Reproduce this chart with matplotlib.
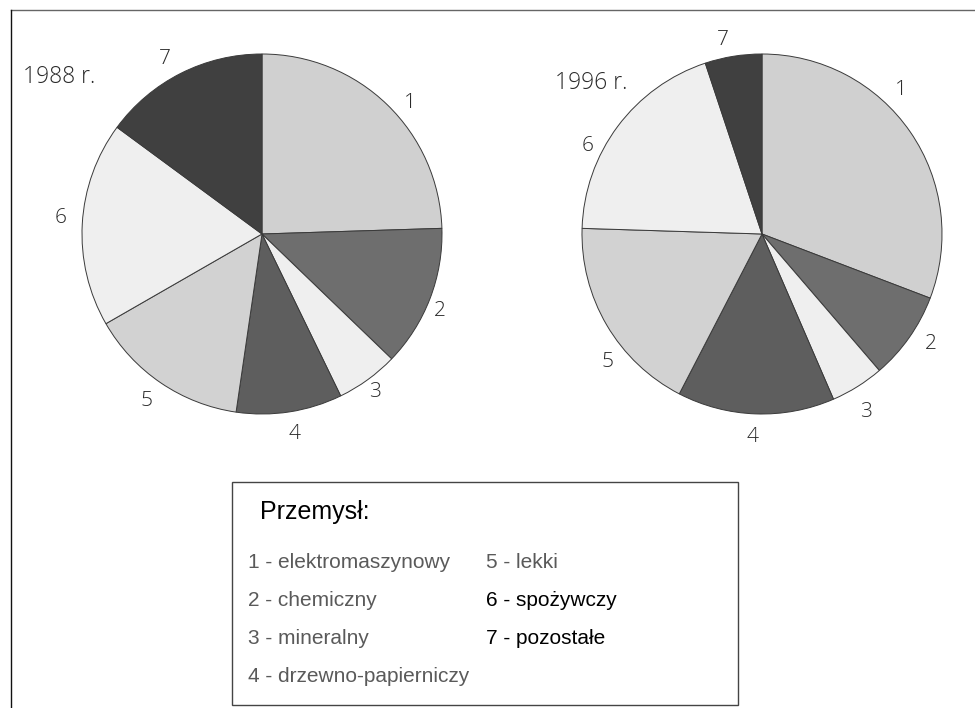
import matplotlib
matplotlib.use("Agg")
import matplotlib.pyplot as plt
from matplotlib.patches import Rectangle
from matplotlib.lines import Line2D

# shares of industry branches (%)
labels = ['1', '2', '3', '4', '5', '6', '7']
shares_1988 = [24.5, 12.7, 5.6, 9.5, 14.4, 18.4, 14.9]
shares_1996 = [30.8, 7.9, 4.8, 14.1, 17.9, 19.4, 5.1]
colors = ['#d0d0d0', '#6e6e6e', '#efefef', '#5e5e5e', '#d2d2d2', '#efefef', '#404040']

legend_left = ['1 - elektromaszynowy', '2 - chemiczny', '3 - mineralny', '4 - drzewno-papierniczy']
legend_right = ['5 - lekki', '6 - spożywczy', '7 - pozostałe']

# where the slice numbers sit, in pie radii from the centre
label_pos_1988 = [(0.82, 0.73), (0.99, -0.43), (0.63, -0.88), (0.18, -1.11),
                  (-0.64, -0.93), (-1.12, 0.09), (-0.54, 0.97)]
label_pos_1996 = [(0.77, 0.80), (0.94, -0.61), (0.58, -0.99), (-0.05, -1.13),
                  (-0.86, -0.71), (-0.97, 0.49), (-0.22, 1.08)]

W, H = 975, 708
fig = plt.figure(figsize=(W / 100, H / 100), dpi=100)

R = 180
pad = 1.3

def pie_axes(cx, cy):
    return fig.add_axes([(cx - pad * R) / W, (H - cy - pad * R) / H,
                         2 * pad * R / W, 2 * pad * R / H])

label_font = dict(family=['Open Sans', 'DejaVu Sans'], fontweight='light', color='#2a2a2a')

for cx, shares, year, ypos, lpos in [(262, shares_1988, '1988 r.', (23, 77), label_pos_1988),
                                     (762, shares_1996, '1996 r.', (555, 83), label_pos_1996)]:
    ax = pie_axes(cx, 234)
    wedges, texts = ax.pie(shares, labels=labels, colors=colors, startangle=90,
                           counterclock=False, labeldistance=1.12,
                           wedgeprops=dict(edgecolor='#3a3a3a', linewidth=0.7),
                           textprops=dict(fontsize=15, **label_font))
    for t, p in zip(texts, lpos):
        t.set_position(p)
        t.set_ha('center')
        t.set_va('center')
    ax.set_xlim(-pad, pad)
    ax.set_ylim(-pad, pad)
    ax.set_aspect('auto')
    fig.text(ypos[0] / W, 1 - ypos[1] / H, year, fontsize=16.5, va='center', ha='left', **label_font)

# outer frame lines
fig.add_artist(Line2D([11 / W, 1], [1 - 10 / H, 1 - 10 / H], color='#666666', lw=1))
fig.add_artist(Line2D([11 / W, 11 / W], [0, 1 - 10 / H], color='#111111', lw=1))

# legend box
fig.add_artist(Rectangle((232 / W, 1 - 705 / H), (738 - 232) / W, (705 - 482) / H,
                         transform=fig.transFigure, fill=False, edgecolor='#444444', lw=1))

leg_font = ['Liberation Sans', 'DejaVu Sans']
fig.text(260 / W, 1 - 512 / H, 'Przemysł:', fontsize=18, family=leg_font, color='black', va='center')

rows = [562, 601, 639, 677]
for txt, y in zip(legend_left, rows):
    fig.text(248 / W, 1 - y / H, txt, fontsize=15, family=leg_font, color='#5a5a5a', va='center')
for i, (txt, y) in enumerate(zip(legend_right, rows)):
    col = '#5a5a5a' if i == 0 else 'black'
    fig.text(486 / W, 1 - y / H, txt, fontsize=15, family=leg_font, color=col, va='center')

fig.savefig('out.png', dpi=100, facecolor='white')
